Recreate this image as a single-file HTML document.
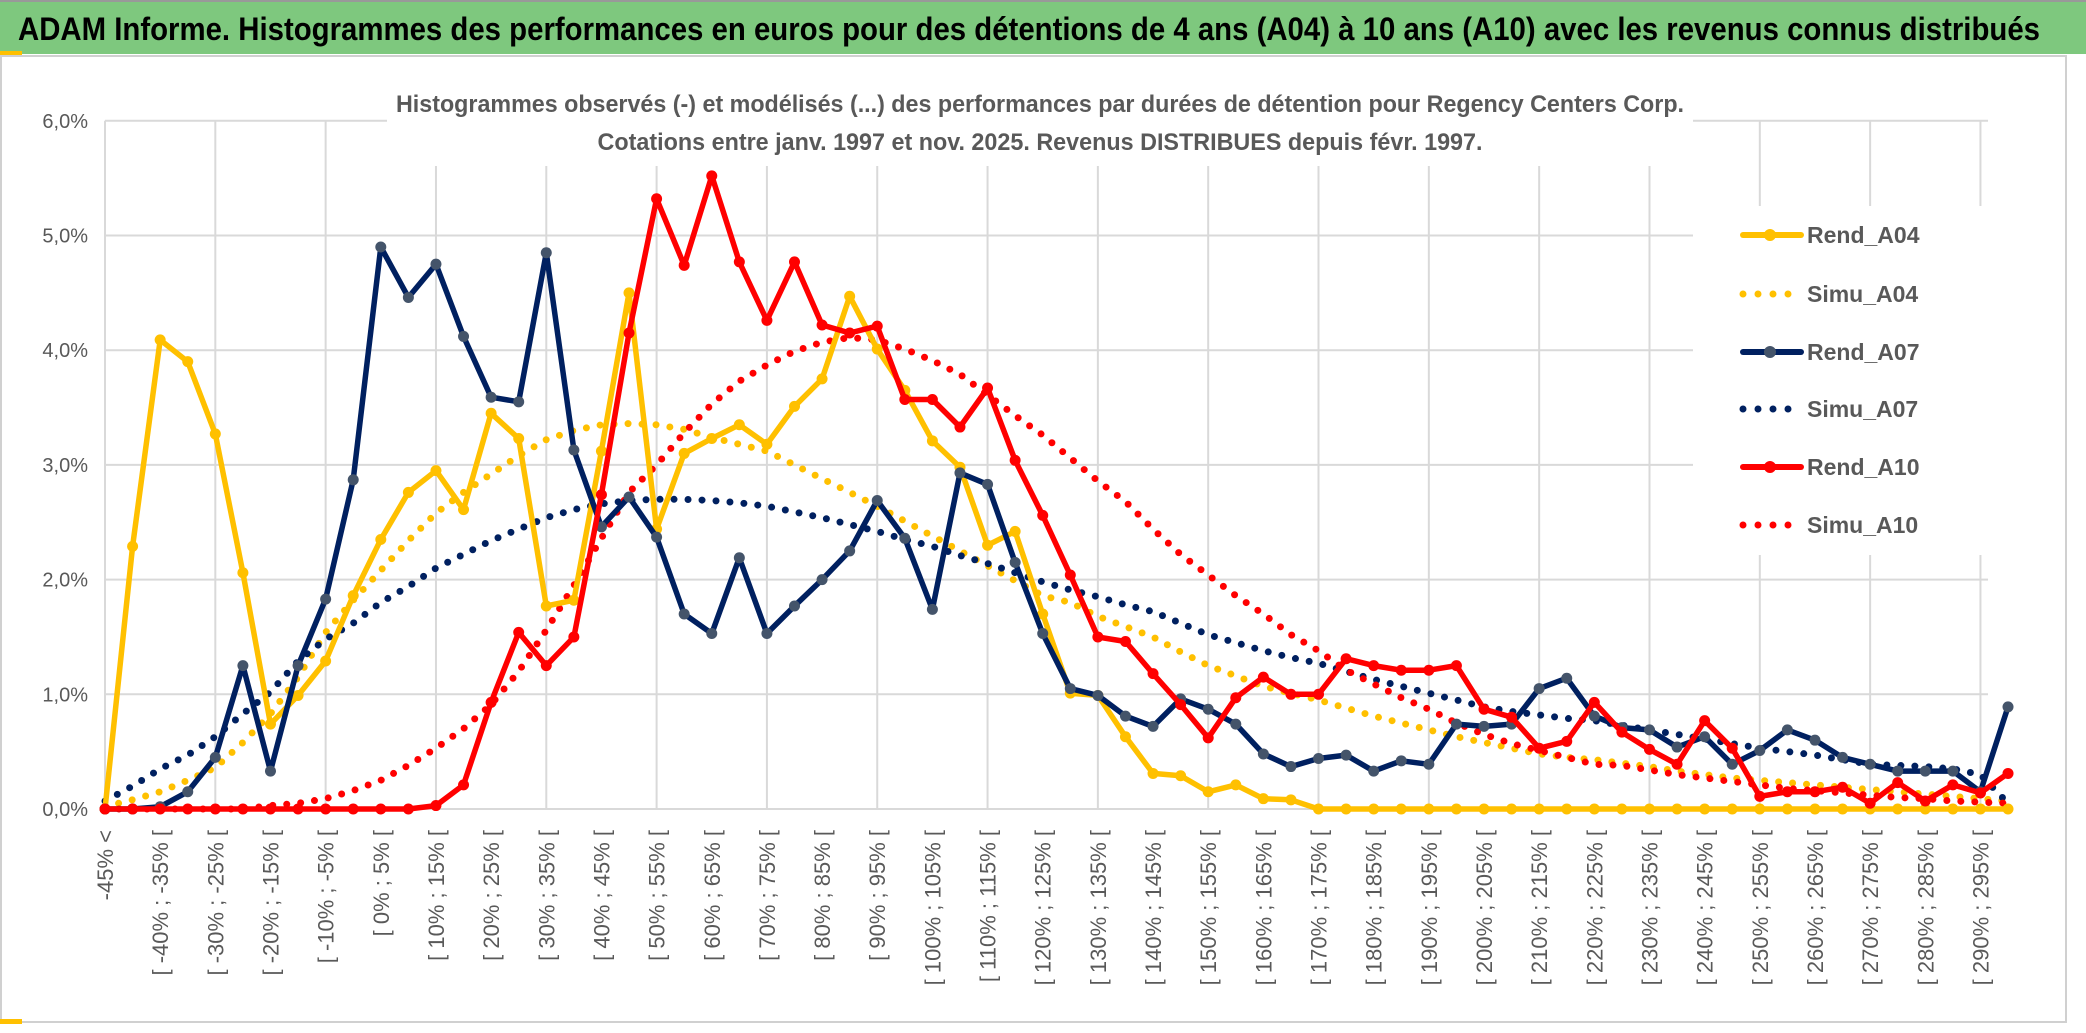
<!DOCTYPE html>
<html><head><meta charset="utf-8"><style>
html,body{margin:0;padding:0;background:#fff;}
svg{display:block;font-family:"Liberation Sans",sans-serif;}
</style></head><body>
<svg id="chart" width="2086" height="1033" viewBox="0 0 2086 1033" xmlns="http://www.w3.org/2000/svg">
<rect x="0" y="0" width="2086" height="1033" fill="#fff"/>
<rect x="0" y="0" width="2086" height="54" fill="#7ec87e"/>
<line x1="0" y1="1" x2="2086" y2="1" stroke="#999" stroke-width="2"/>
<rect x="0" y="51" width="22" height="4" fill="#ffc000"/>
<text x="18" y="40" font-size="32" font-weight="bold" fill="#000" textLength="2022" lengthAdjust="spacingAndGlyphs">ADAM Informe. Histogrammes des performances en euros pour des détentions de 4 ans (A04) à 10 ans (A10) avec les revenus connus distribués</text>
<rect x="1" y="56" width="2065" height="966" fill="none" stroke="#d0d0d0" stroke-width="2"/>
<rect x="0" y="1019" width="22" height="5" fill="#ffc000"/>
<g id="grid"></g>
<g id="yaxis"></g>
<g id="xaxis"></g>
<rect x="387" y="84" width="1306" height="82" fill="#fff"/>
<text x="1040" y="112" font-size="24" font-weight="bold" fill="#595959" text-anchor="middle" textLength="1288" lengthAdjust="spacingAndGlyphs">Histogrammes observés (-) et modélisés (...) des performances par durées de détention pour Regency Centers Corp.</text>
<text x="1040" y="150" font-size="24" font-weight="bold" fill="#595959" text-anchor="middle" textLength="885" lengthAdjust="spacingAndGlyphs">Cotations entre janv. 1997 et nov. 2025. Revenus DISTRIBUES depuis févr. 1997.</text>
<g id="series"></g>
<g id="legend"></g>
</svg>
<script>
const categoriesLow = [];
for (let v = -45; v <= 295; v += 5) categoriesLow.push(v);
const yTicks = [0,1,2,3,4,5,6];
const yTickLabels = ["0,0%","1,0%","2,0%","3,0%","4,0%","5,0%","6,0%"];
const rendA04 = [0,2.29,4.09,3.90,3.27,2.06,0.74,0.99,1.29,1.86,2.35,2.76,2.95,2.61,3.45,3.23,1.77,1.82,3.12,4.50,2.44,3.10,3.23,3.35,3.18,3.51,3.75,4.47,4.01,3.65,3.21,2.98,2.30,2.42,1.70,1.01,0.99,0.63,0.31,0.29,0.15,0.21,0.09,0.08,0,0,0,0,0,0,0,0,0,0,0,0,0,0,0,0,0,0,0,0,0,0,0,0,0,0];
const simuA04 = [0.02,0.08,0.15,0.25,0.36,0.58,0.83,1.15,1.54,1.82,2.08,2.34,2.58,2.76,2.92,3.08,3.22,3.30,3.35,3.36,3.35,3.31,3.24,3.18,3.12,3.00,2.88,2.76,2.64,2.51,2.38,2.25,2.12,1.99,1.86,1.80,1.68,1.59,1.50,1.37,1.25,1.16,1.07,1.01,0.95,0.88,0.81,0.75,0.69,0.63,0.58,0.53,0.48,0.45,0.43,0.40,0.37,0.33,0.30,0.27,0.25,0.23,0.21,0.19,0.17,0.15,0.13,0.11,0.09,0.07];
const rendA07 = [0,0,0.02,0.15,0.45,1.25,0.33,1.25,1.83,2.87,4.90,4.46,4.75,4.12,3.59,3.55,4.85,3.13,2.46,2.72,2.37,1.70,1.53,2.19,1.53,1.77,2.00,2.25,2.69,2.36,1.74,2.93,2.83,2.15,1.53,1.05,0.99,0.81,0.72,0.96,0.87,0.74,0.48,0.37,0.44,0.47,0.33,0.42,0.39,0.74,0.72,0.74,1.05,1.14,0.81,0.71,0.69,0.54,0.63,0.39,0.51,0.69,0.60,0.45,0.39,0.33,0.33,0.33,0.15,0.89];
const simuA07 = [0.07,0.20,0.35,0.47,0.63,0.83,1.02,1.29,1.48,1.62,1.80,1.94,2.10,2.22,2.34,2.44,2.54,2.61,2.66,2.69,2.70,2.70,2.69,2.67,2.64,2.59,2.54,2.48,2.42,2.35,2.29,2.21,2.14,2.06,1.98,1.91,1.85,1.78,1.72,1.62,1.52,1.45,1.38,1.32,1.27,1.20,1.13,1.07,1.01,0.95,0.89,0.85,0.82,0.79,0.77,0.73,0.69,0.65,0.61,0.57,0.53,0.50,0.47,0.43,0.39,0.38,0.37,0.35,0.30,0.05];
const rendA10 = [0,0,0,0,0,0,0,0,0,0,0,0,0.03,0.21,0.93,1.54,1.25,1.50,2.74,4.15,5.32,4.74,5.52,4.77,4.26,4.77,4.22,4.15,4.21,3.57,3.57,3.33,3.67,3.04,2.56,2.04,1.50,1.46,1.18,0.91,0.62,0.97,1.15,1.00,1.00,1.31,1.25,1.21,1.21,1.25,0.87,0.80,0.53,0.59,0.93,0.67,0.52,0.39,0.77,0.53,0.11,0.15,0.15,0.19,0.05,0.23,0.07,0.21,0.14,0.31];
const simuA10 = [0,0,0,0,0,0,0.03,0.05,0.09,0.16,0.25,0.38,0.53,0.70,0.91,1.20,1.56,1.95,2.36,2.76,3.00,3.28,3.53,3.73,3.87,3.99,4.07,4.11,4.09,4.01,3.91,3.79,3.61,3.43,3.26,3.06,2.86,2.68,2.44,2.22,2.04,1.86,1.70,1.52,1.38,1.21,1.09,0.97,0.87,0.75,0.65,0.57,0.51,0.45,0.39,0.38,0.34,0.30,0.27,0.24,0.21,0.18,0.16,0.14,0.12,0.10,0.09,0.07,0.06,0.05];

const NS = "http://www.w3.org/2000/svg";
const X0 = 105, DX = 27.58, Y0 = 809, YPER = 114.7;
function xs(i){ return X0 + i*DX; }
function ys(v){ return Y0 - v*YPER; }
function mk(tag, attrs, parent){ const e=document.createElementNS(NS,tag); for(const k in attrs) e.setAttribute(k,attrs[k]); parent.appendChild(e); return e; }
const grid = document.getElementById('grid');
const yaxis = document.getElementById('yaxis');
const xaxis = document.getElementById('xaxis');
const series = document.getElementById('series');
const legend = document.getElementById('legend');
const xEnd = X0 + (categoriesLow.length)*DX - 20;
yTicks.forEach((t,i)=>{
  const l = mk('line',{x1:X0,y1:ys(t),x2:xEnd,y2:ys(t),stroke:'#d9d9d9','stroke-width':2},grid);
  
  
  const tx = mk('text',{x:88,y:ys(t)+7,'font-size':20,fill:'#595959','text-anchor':'end'},yaxis);
  tx.textContent = yTickLabels[i];
  
  
});
categoriesLow.forEach((c,i)=>{
  if(i%4===0){
    const l = mk('line',{x1:xs(i),y1:ys(6),x2:xs(i),y2:Y0,stroke:'#d9d9d9','stroke-width':2},grid);
    
    
  }
  if(i%2===0){
    const lab = i===0 ? '-45% <' : '[ '+(c-5)+'% ; '+c+'% ['; 
    const tx = mk('text',{x:0,y:0,'font-size':22,fill:'#595959','text-anchor':'end',transform:'translate('+(xs(i)+8)+',830) rotate(-90)'},xaxis);
    tx.textContent = lab;
    
    
  }
});
function pts(arr){ return arr.map((v,i)=>xs(i).toFixed(1)+','+ys(v).toFixed(1)).join(' '); }
function dotted(arr,color,name){
  const p = mk('polyline',{points:pts(arr),fill:'none',stroke:color,'stroke-width':7,'stroke-linecap':'round','stroke-dasharray':'0 14'},series);
  
  
}
function solid(arr,color,marker,name){
  const g = mk('g',{},series);
  
  
  mk('polyline',{points:pts(arr),fill:'none',stroke:color,'stroke-width':5.5,'stroke-linejoin':'round'},g);
  arr.forEach((v,i)=>{
    const c = mk('circle',{cx:xs(i),cy:ys(v),r:5.5,fill:marker},g);
    
    
  });
}
dotted(simuA04,'#ffc000','simu-a04-line');
dotted(simuA07,'#002060','simu-a07-line');
dotted(simuA10,'#ff0000','simu-a10-line');
solid(rendA04,'#ffc000','#ffc000','rend-a04-line');
solid(rendA07,'#002060','#44546a','rend-a07-line');
solid(rendA10,'#ff0000','#ff0000','rend-a10-line');
const lb = mk('rect',{x:1693,y:206,width:325,height:349,fill:'#fff'},legend);


const legItems = [['Rend_A04','#ffc000','#ffc000',false],['Simu_A04','#ffc000','',true],['Rend_A07','#002060','#44546a',false],['Simu_A07','#002060','',true],['Rend_A10','#ff0000','#ff0000',false],['Simu_A10','#ff0000','',true]];
const legY = [235,294,352,409,467,525];
legItems.forEach((it,i)=>{
  const g = mk('g',{},legend);
  
  
  const y = legY[i];
  if(it[3]){
    mk('line',{x1:1743,y1:y,x2:1802,y2:y,stroke:it[1],'stroke-width':7,'stroke-linecap':'round','stroke-dasharray':'0 15'},g);
  } else {
    mk('line',{x1:1743,y1:y,x2:1801,y2:y,stroke:it[1],'stroke-width':6,'stroke-linecap':'round'},g);
    mk('circle',{cx:1770,cy:y,r:6,fill:it[2]},g);
  }
  const t = mk('text',{x:1807,y:y+8,'font-size':23,'font-weight':'bold',fill:'#595959'},g);
  t.textContent = it[0];
});
</script>
</body></html>
